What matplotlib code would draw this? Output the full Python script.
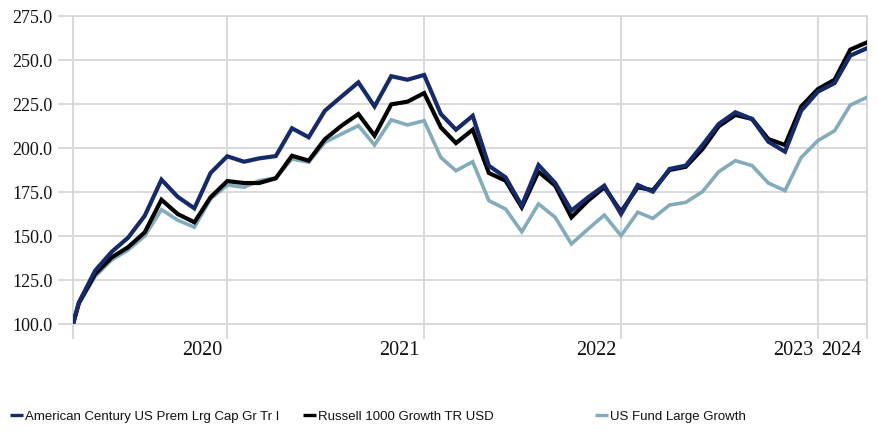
import matplotlib
matplotlib.use("Agg")
import matplotlib.pyplot as plt
import matplotlib.transforms as mtransforms
from matplotlib.lines import Line2D
import pandas as pd

# ---- data ----
start_date = "2020-03-20"
month_ends = pd.date_range("2020-03-31", "2024-03-31", freq="ME")
dates = [pd.Timestamp(start_date)] + list(month_ends)

american_century = [
    100.0, 112.3, 130.3, 141.1, 149.0, 161.5, 182.0, 172.3, 165.7, 185.8,
    195.3, 192.2, 194.1, 195.4, 211.2, 206.1, 221.2, 229.3, 237.3, 223.6,
    240.8, 238.8, 241.5, 219.3, 210.4, 218.3, 189.9, 183.3, 167.2, 190.3,
    180.1, 164.4, 172.0, 178.6, 162.5, 179.0, 175.2, 188.1, 190.0, 201.7,
    213.6, 220.3, 216.5, 203.6, 197.9, 221.2, 232.0, 236.9, 252.5, 256.7,
]
russell_1000_growth = [
    100.0, 112.0, 128.4, 137.9, 143.6, 152.1, 170.6, 162.5, 157.8, 172.0,
    181.2, 180.1, 180.1, 182.8, 195.6, 192.8, 205.0, 212.7, 219.3, 207.0,
    224.8, 226.3, 231.2, 211.7, 202.8, 210.4, 185.8, 181.4, 166.3, 186.5,
    178.6, 160.6, 170.1, 177.7, 163.8, 177.7, 176.0, 187.5, 189.3, 199.4,
    212.3, 218.8, 216.5, 205.1, 201.7, 223.6, 233.5, 238.8, 255.9, 260.0,
]
us_fund_large_growth = [
    100.0, 111.5, 127.0, 136.5, 142.0, 150.0, 165.0, 159.0, 155.0, 171.0,
    179.0, 177.7, 181.4, 183.0, 193.8, 191.9, 203.2, 208.0, 212.7, 201.7,
    216.0, 213.1, 215.5, 194.6, 187.1, 192.2, 170.1, 165.3, 152.4, 168.2,
    160.6, 145.5, 154.0, 161.9, 150.2, 163.5, 160.0, 167.6, 169.1, 175.2,
    186.5, 192.8, 190.0, 180.1, 175.8, 194.6, 204.2, 209.8, 224.4, 228.8,
]
series_names = [
    "American Century US Prem Lrg Cap Gr Tr I",
    "Russell 1000 Growth TR USD",
    "US Fund Large Growth",
]
y_ticks = [100, 125, 150, 175, 200, 225, 250, 275]
year_ends = ["2020-12-31", "2021-12-31", "2022-12-31", "2023-12-31", "2024-03-31"]
year_labels = ["2020", "2021", "2022", "2023", "2024"]

# ---- style ----
NAVY = "#152a6b"
BLACK = "#000000"
LIGHT = "#82abbb"
GRID = "#d9d9d9"

fig = plt.figure(figsize=(8.79, 4.35), dpi=100)
ax = fig.add_axes([73 / 879, 110 / 435, 794 / 879, 308 / 435])

ax.plot(dates, us_fund_large_growth, color=LIGHT, lw=2.6, zorder=3,
        solid_joinstyle="miter")
ax.plot(dates, russell_1000_growth, color=BLACK, lw=3.0, zorder=4,
        solid_joinstyle="miter")
ax.plot(dates, american_century, color=NAVY, lw=3.0, zorder=5,
        solid_joinstyle="miter")

ax.set_xlim(pd.Timestamp(start_date), pd.Timestamp("2024-03-31"))
ax.set_ylim(100, 275)

# y axis
ax.set_yticks(y_ticks)
ax.set_yticklabels([f"{v:.1f}" for v in y_ticks])
ax.tick_params(axis="y", length=11, width=1.4, color=GRID, pad=3.6,
               labelsize=13)
for lbl in ax.get_yticklabels():
    lbl.set_fontfamily("Liberation Serif")
    lbl.set_color("#111111")

# x axis: tick lines at start and year ends, labels right-aligned
xt = [pd.Timestamp(start_date)] + [pd.Timestamp(d) for d in year_ends]
ax.set_xticks(xt)
ax.set_xticklabels([""] + year_labels)
ax.tick_params(axis="x", length=11, width=1.4, color=GRID, pad=0.5,
               labelsize=14.5)
offset = mtransforms.ScaledTranslation(-5 / 100, 0, fig.dpi_scale_trans)
for lbl in ax.get_xticklabels():
    lbl.set_fontfamily("Liberation Serif")
    lbl.set_horizontalalignment("right")
    lbl.set_color("#111111")
    lbl.set_transform(lbl.get_transform() + offset)

ax.grid(True, color=GRID, lw=1.4)
ax.set_axisbelow(True)
for s in ax.spines.values():
    s.set_color(GRID)
    s.set_linewidth(1.4)

# legend entries
colors = [NAVY, BLACK, LIGHT]
legend_x = [10 / 879, 303 / 879, 595 / 879]
for name, c, lx in zip(series_names, colors, legend_x):
    h = Line2D([], [], color=c, lw=2.4, solid_capstyle="butt")
    leg = fig.legend([h], [name], loc="center left",
                     bbox_to_anchor=(lx, 1 - 417 / 435), frameon=False,
                     handlelength=1.0, handletextpad=0.12, borderpad=0,
                     borderaxespad=0,
                     prop={"family": "Liberation Sans", "size": 9.5})
    for t in leg.get_texts():
        t.set_color("#111111")

fig.savefig("out.png", dpi=100)
